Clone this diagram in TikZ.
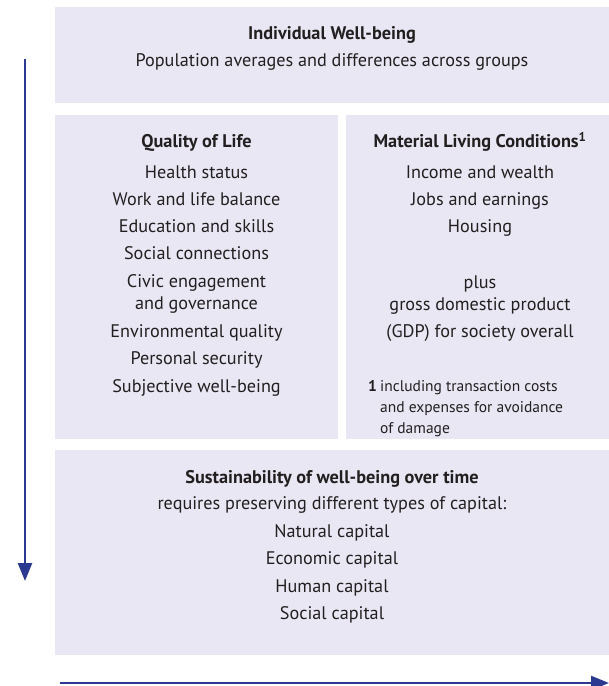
\documentclass[tikz,border=0pt]{standalone}
\usepackage{fontspec}
\setmainfont{PT Sans}
\usetikzlibrary{arrows.meta}
\definecolor{panelfill}{HTML}{E8E7F3}
\definecolor{axisblue}{HTML}{2B3990}
\definecolor{ink}{HTML}{231F20}

\begin{document}
\begin{tikzpicture}[x=1pt,y=-1pt]
    \tikzset{
    panel/.style={fill=panelfill, draw=none, inner sep=0pt, outer sep=0pt},
    head/.style={font=\fontsize{18.3}{21}\selectfont\bfseries, text=ink, anchor=mid, yshift=-3pt},
    entry/.style={font=\fontsize{18.2}{21}\selectfont, text=ink, anchor=mid, yshift=-3pt},
    note/.style={font=\fontsize{15.5}{18}\selectfont, text=ink, anchor=mid west, inner sep=0pt, yshift=-2pt},
    axis/.style={axisblue, line width=2.5pt, -{Triangle[length=18pt,width=14pt]}},
    }
    \useasboundingbox (0,0) rectangle (609,686);

    % panels
    \node[panel, minimum width=554pt, minimum height=96pt] (top) at (332,55) {};
    \node[panel, minimum width=283pt, minimum height=324pt] (qol) at (196.5,277) {};
    \node[panel, minimum width=263pt, minimum height=324pt] (mlc) at (477.5,277) {};
    \node[panel, minimum width=554pt, minimum height=205pt] (sus) at (332,552.5) {};

    % individual well-being
    \node[head] (t1) at (332,34) {Individual Well-being};
    \node[entry] (t2) at (332,61) {Population averages and differences across groups};

    % quality of life
    \node[head] (q0) at (196.5,142) {Quality of Life};
    \node[entry] (q1) at (196.5,173) {Health status};
    \node[entry] (q2) at (196.5,200) {Work and life balance};
    \node[entry] (q3) at (196.5,227) {Education and skills};
    \node[entry] (q4) at (196.5,254) {Social connections};
    \node[entry] (q5) at (196.5,282) {Civic engagement};
    \node[entry] (q6) at (196.5,304) {and governance};
    \node[entry] (q7) at (196.5,332) {Environmental quality};
    \node[entry] (q8) at (196.5,359) {Personal security};
    \node[entry] (q9) at (196.5,387) {Subjective well-being};

    % material living conditions
    \node[head] (m0) at (480,142) {Material Living Conditions\textsuperscript{1}};
    \node[entry] (m1) at (480,173) {Income and wealth};
    \node[entry] (m2) at (480,200) {Jobs and earnings};
    \node[entry] (m3) at (480,227) {Housing};
    \node[entry] (m4) at (480,283) {plus};
    \node[entry] (m5) at (480,305) {gross domestic product};
    \node[entry] (m6) at (480,332) {(GDP) for society overall};
    \node[note, font=\fontsize{15.5}{18}\selectfont\bfseries] (f0) at (368,387) {1};
    \node[note] (f1) at (380,387) {including transaction costs};
    \node[note] (f2) at (380,408) {and expenses for avoidance};
    \node[note] (f3) at (380,429) {of damage};

    % sustainability
    \node[head] (s0) at (332,478) {Sustainability of well-being over time};
    \node[entry] (s1) at (332,504) {requires preserving different types of capital:};
    \node[entry] (s2) at (332,532) {Natural capital};
    \node[entry] (s3) at (332,559) {Economic capital};
    \node[entry] (s4) at (332,587) {Human capital};
    \node[entry] (s5) at (332,614) {Social capital};

    % axes
    \coordinate (down0) at (25,59);
    \coordinate (down1) at (25,581);
    \coordinate (right0) at (60,683);
    \coordinate (right1) at (609,683);
    \draw[axis] (down0) -- (down1);
    \draw[axis] (right0) -- (right1);

\end{tikzpicture}
\end{document}
